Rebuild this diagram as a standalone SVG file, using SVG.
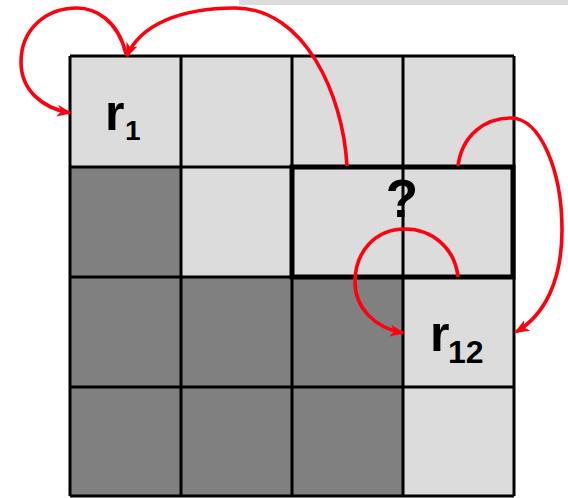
<svg xmlns="http://www.w3.org/2000/svg" width="568" height="498" viewBox="0 0 568 498">
  <defs>
    <style>
      .light { fill: #dcdcdc; }
      .dark { fill: #808080; }
      .grid { stroke: #000; stroke-width: 3; fill: none; }
      .thick { stroke: #000; stroke-width: 5; fill: none; }
      .lbl { font-family: "Liberation Sans", Arial, sans-serif; font-weight: bold; fill: #000; }
      .arc { stroke: #ff0010; stroke-width: 3.6; fill: none; }
    </style>
    <marker id="ah" markerUnits="userSpaceOnUse" markerWidth="18" markerHeight="14" refX="13" refY="6" orient="auto">
      <path d="M0,0 L15,6 L0,12 L4,6 z" fill="#ff0010"/>
    </marker>
  </defs>
  <rect x="239" y="0" width="329" height="5" class="light"/>
  <g id="cells">
    <rect x="70" y="56" width="444" height="111" class="light"/>
    <rect x="70" y="167" width="111" height="110" class="dark"/>
    <rect x="181" y="167" width="333" height="110" class="light"/>
    <rect x="70" y="277" width="333" height="219" class="dark"/>
    <rect x="403" y="277" width="111" height="219" class="light"/>
    <path class="grid" d="M70,56 H514 M70,167 H514 M70,277 H514 M70,387 H514 M70,496 H514 M70,56 V496 M181,56 V496 M292,56 V496 M403,56 V496 M514,56 V496"/>
  </g>
  <g id="r1">
    <text class="lbl" x="105" y="130" font-size="50">r</text>
    <text class="lbl" x="125" y="140" font-size="28">1</text>
  </g>
  <g id="query">
    <rect x="292" y="167" width="221" height="110" class="thick"/>
    <text class="lbl" x="402" y="217" font-size="53" text-anchor="middle">?</text>
  </g>
  <g id="r12">
    <text class="lbl" x="430" y="351" font-size="50">r</text>
    <text class="lbl" x="448" y="363" font-size="32">12</text>
  </g>
  <g id="connectors">
    <path class="arc" marker-end="url(#ah)" d="M126,54 C118,20 95,8 77,8 C45,8 21,30 21,62 C21,90 42,108 70,113"/>
    <path class="arc" marker-end="url(#ah)" d="M347,166 C343,95 305,8 235,8 C180,8 140,25 127,56"/>
    <path class="arc" marker-end="url(#ah)" d="M458,166 C462,135 485,118 511,118 C540,118 562,170 562,230 C562,280 545,315 516,332"/>
    <path class="arc" marker-end="url(#ah)" d="M458,277 C455,248 432,229 405,229 C375,229 355,252 355,282 C355,308 375,328 403,333"/>
  </g>
</svg>
